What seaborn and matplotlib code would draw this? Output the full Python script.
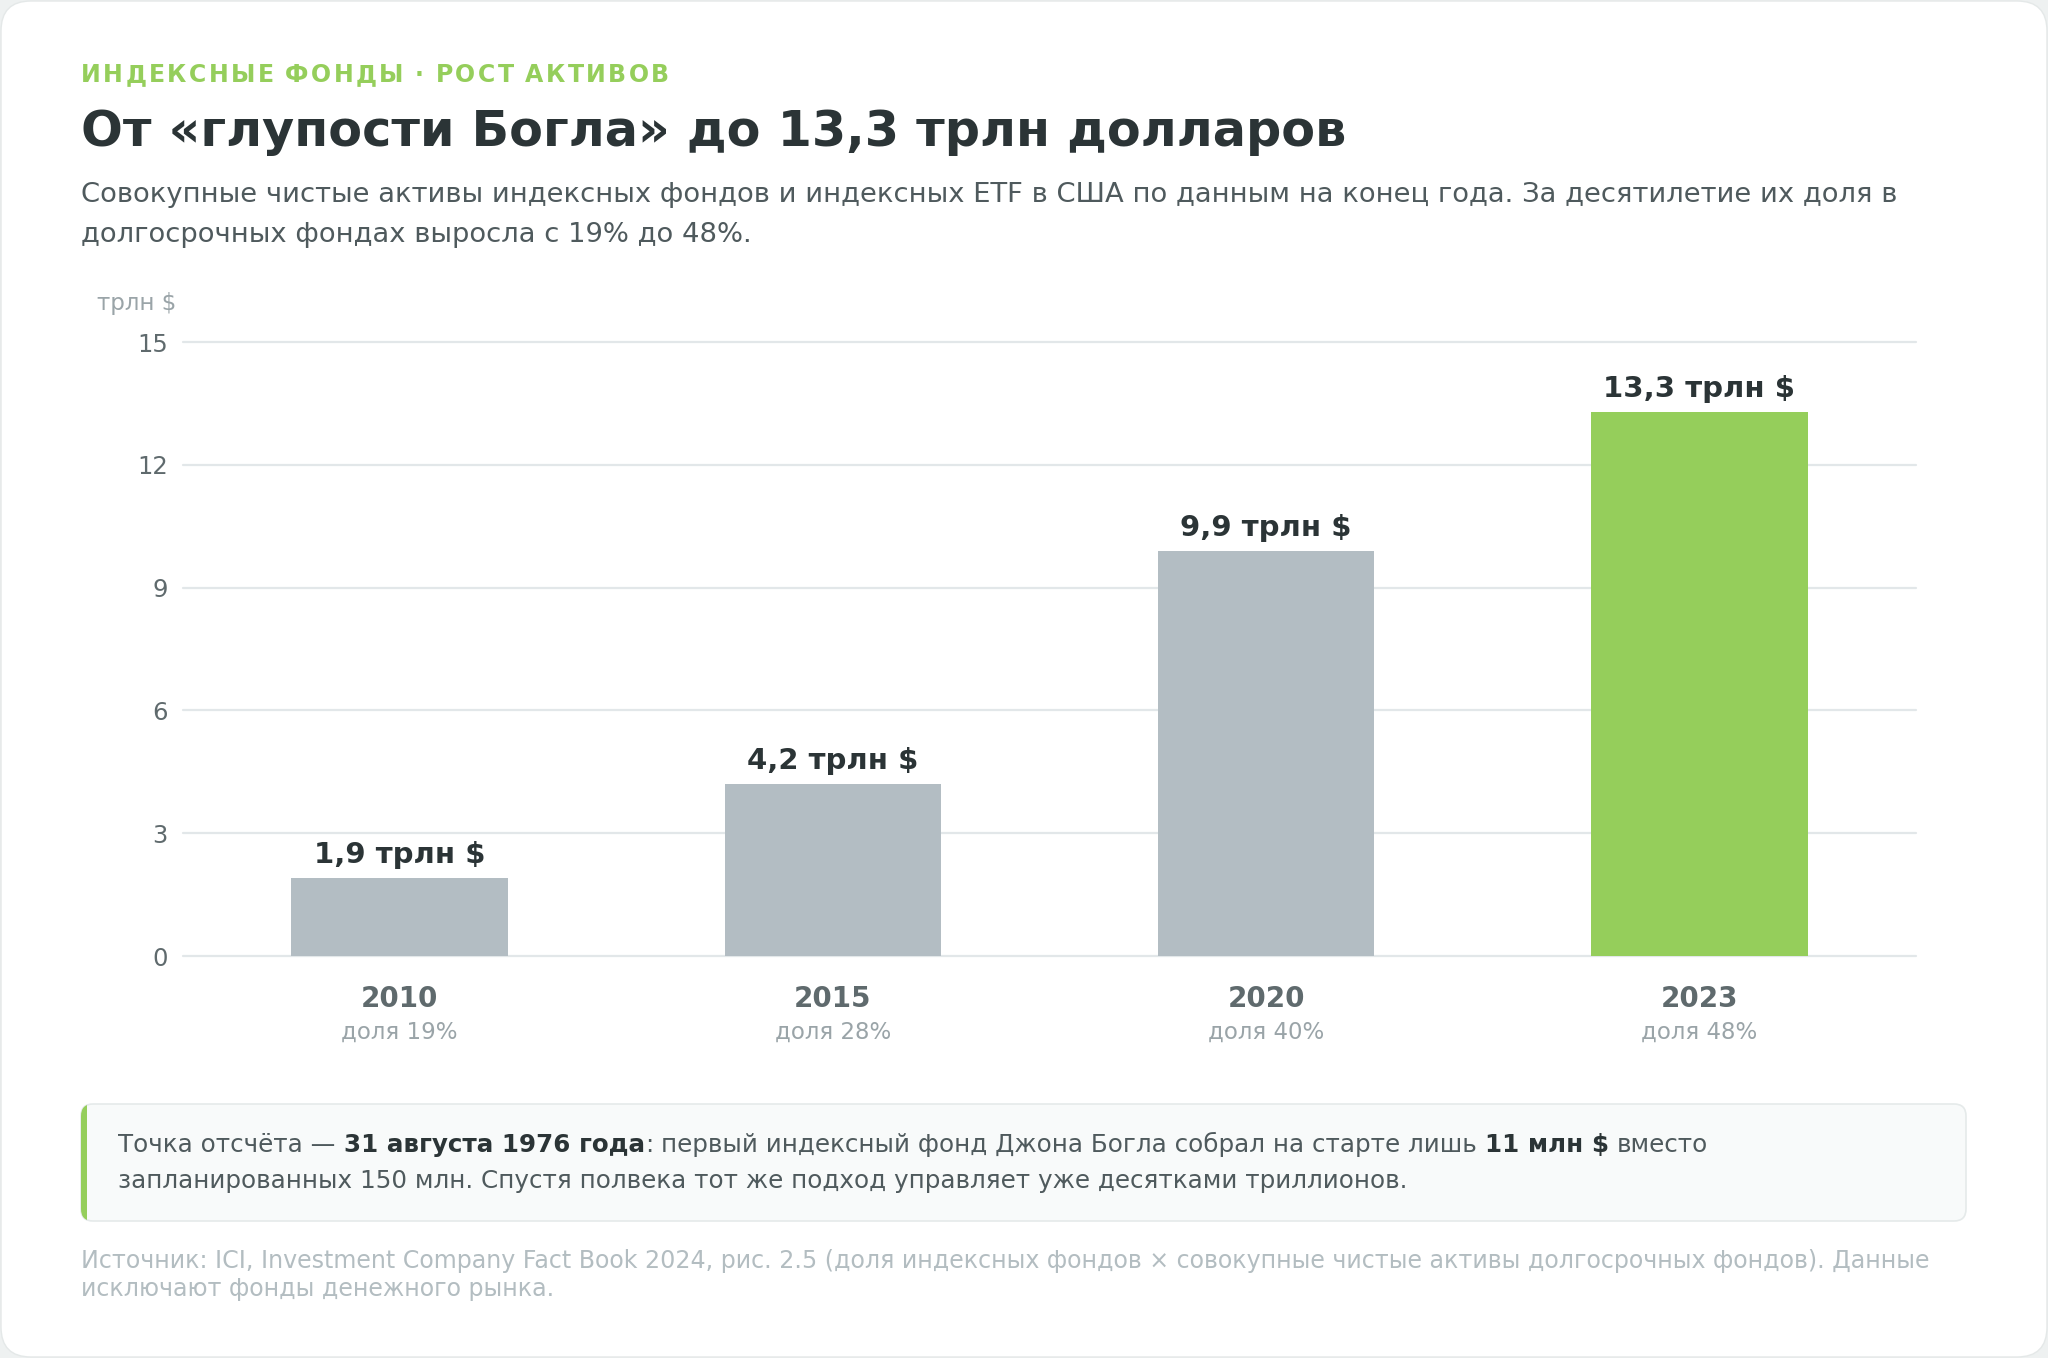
import pandas as pd
import matplotlib
matplotlib.use('Agg')
import matplotlib.pyplot as plt
import matplotlib.transforms as mtransforms
from matplotlib.patches import FancyBboxPatch, Rectangle
import seaborn as sns

# Data
years = ['2010', '2015', '2020', '2023']
assets = [1.9, 4.2, 9.9, 13.3]
value_labels = ['1,9 трлн $', '4,2 трлн $', '9,9 трлн $', '13,3 трлн $']
share_labels = ['доля 19%', 'доля 28%', 'доля 40%', 'доля 48%']
yticks = [0, 3, 6, 9, 12, 15]

W, H = 2048, 1358
GREEN = '#95ce5b'
GRAY_BAR = '#b3bdc3'
DARK = '#2b3436'
SUB = '#4f5a5d'
TICK = '#5f6a6d'
LIGHT = '#9aa4a8'
SOURCE = '#b3bdc1'

sns.set_style('white')
plt.rcParams['font.family'] = ['DejaVu Sans']

fig = plt.figure(figsize=(W / 100, H / 100), dpi=100)
fig.patch.set_facecolor('#eef1f1')
px = mtransforms.IdentityTransform()

# white card behind everything
card = FancyBboxPatch((1, 1), W - 2, H - 2, boxstyle='round,pad=0,rounding_size=30',
                      transform=px, facecolor='white', edgecolor='#e4e8e8', linewidth=1,
                      zorder=-10)
fig.patches.append(card)


def fx(x):
    return x / W


def fy(y):
    return 1 - y / H


renderer = fig.canvas.get_renderer()


def space_w(size, bold):
    return size * 100 / 72 * (0.348 if bold else 0.318)


def rich_line(x, y, parts, size, color, bold_color):
    for s, bold in parts:
        lead = len(s) - len(s.lstrip(' '))
        x += lead * space_w(size, bold)
        t = fig.text(fx(x), fy(y), s.lstrip(' '), fontsize=size,
                     fontweight='bold' if bold else 'normal',
                     color=bold_color if bold else color, va='baseline', ha='left')
        x = t.get_window_extent(renderer).x1


def tracked(x, y, s, size, color, track):
    for ch in s:
        if ch == ' ':
            x += space_w(size, True) + track
            continue
        t = fig.text(fx(x), fy(y), ch, fontsize=size, fontweight='bold',
                     color=color, va='baseline', ha='left')
        x = t.get_window_extent(renderer).x1 + track + 1.5


# header
tracked(81, 82, 'ИНДЕКСНЫЕ ФОНДЫ · РОСТ АКТИВОВ', 17, GREEN, 0.9)
fig.text(fx(81), fy(146), 'От «глупости Богла» до 13,3 трлн долларов',
         fontsize=35.5, fontweight='bold', color=DARK, va='baseline')
fig.text(fx(81), fy(202), 'Совокупные чистые активы индексных фондов и индексных ETF в США '
         'по данным на конец года. За десятилетие их доля в',
         fontsize=19.7, color=SUB, va='baseline')
fig.text(fx(81), fy(242), 'долгосрочных фондах выросла с 19% до 48%.',
         fontsize=19.7, color=SUB, va='baseline')

# chart
ax = fig.add_axes([fx(183), fy(956), (1916 - 183) / W, (956 - 342) / H])
df = pd.DataFrame({'year': years, 'assets': assets})
palette = {y: GRAY_BAR for y in years}
palette['2023'] = GREEN
sns.barplot(data=df, x='year', y='assets', hue='year', palette=palette, width=0.5,
            saturation=1, legend=False, linewidth=0, ax=ax, zorder=3)
ax.set_xlim(-0.5, 3.5)
ax.set_ylim(0, 15)
ax.set_yticks(yticks)
ax.set_yticklabels([str(v) for v in yticks], fontsize=17.5, color=TICK)
ax.set_xticks([])
ax.set_xlabel('')
ax.set_ylabel('')
ax.tick_params(axis='y', length=0, pad=11)
for v in yticks:
    ax.axhline(v, color='#e2e7e9', linewidth=1.6, zorder=0, clip_on=False)
for sp in ax.spines.values():
    sp.set_visible(False)
ax.set_facecolor('none')

for i, (v, lab) in enumerate(zip(assets, value_labels)):
    ax.annotate(lab, (i, v), xytext=(0, 10.8), textcoords='offset points',
                ha='center', va='baseline', fontsize=21, fontweight='bold', color=DARK)

blend = mtransforms.blended_transform_factory(ax.transData, fig.transFigure)
for i, (yr, sh) in enumerate(zip(years, share_labels)):
    ax.text(i, fy(1007), yr, transform=blend, ha='center', va='baseline',
            fontsize=20, fontweight='bold', color=TICK)
    ax.text(i, fy(1039), sh, transform=blend, ha='center', va='baseline',
            fontsize=16.5, color=LIGHT)

fig.text(fx(97), fy(310), 'трлн $', fontsize=16.5, color=LIGHT, va='baseline')

# callout
box = FancyBboxPatch((81, H - 1221), 1966 - 81, 1221 - 1104,
                     boxstyle='round,pad=0,rounding_size=12', transform=px,
                     facecolor='#f8fafa', edgecolor='#e5eaea', linewidth=1.2)
fig.patches.append(box)
accent = Rectangle((80, H - 1222), 7, 1222 - 1103, transform=px,
                   facecolor=GREEN, edgecolor='none')
accent.set_clip_path(box)
fig.patches.append(accent)

rich_line(118, 1152, [('Точка отсчёта —', False), (' 31 августа 1976 года', True),
                      (':', False),
                      (' первый индексный фонд Джона Богла собрал на старте лишь', False),
                      (' 11 млн $', True), (' вместо', False)], 17.75, SUB, DARK)
rich_line(118, 1188, [('запланированных 150 млн. Спустя полвека тот же подход '
                       'управляет уже десятками триллионов.', False)], 17.75, SUB, DARK)

# source
fig.text(fx(81), fy(1268), 'Источник: ICI, Investment Company Fact Book 2024, рис. 2.5 '
         '(доля индексных фондов × совокупные чистые активы долгосрочных фондов). Данные',
         fontsize=17.15, color=SOURCE, va='baseline')
fig.text(fx(81), fy(1296), 'исключают фонды денежного рынка.',
         fontsize=17.15, color=SOURCE, va='baseline')

fig.savefig('out.png', dpi=100, facecolor=fig.get_facecolor())
